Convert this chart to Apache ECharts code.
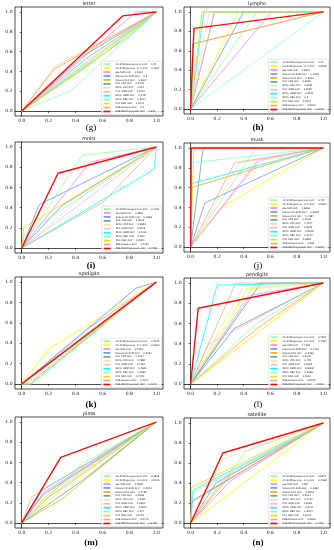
<!DOCTYPE html>
<html><head><meta charset="utf-8">
<script src="https://cdn.jsdelivr.net/npm/echarts@6/dist/echarts.min.js"></script>
<style>html,body{margin:0;padding:0;background:#fff}#c{width:334px;height:550px}</style>
</head><body><div id="c"></div>
<script>
// ---------- DATA ----------
const methods = ['OC-SVM(Autogamma)', 'OC-SVM(gamma=0.1)', 'eta-SVM', 'Robust OC-SVM', 'Robust PCA',
  'PCA_CDF', 'KPCA_CDF', 'PCA_GMM', 'KPCA_GMM', 'KPCA_DBC', 'PCA_DBC', 'DAE-Kmeans', 'DAE-DBC(Proposed)'];
const datasets = ['letter', 'lympho', 'mnist', 'musk', 'optdigits', 'pendigits', 'pima', 'satellite'];
const captions = ['(g)', '(h)', '(i)', '(j)', '(k)', '(l)', '(m)', '(n)'];
const tickValues = [0.0, 0.2, 0.4, 0.6, 0.8, 1.0];

// middle ROC point (FPR, TPR) per method; null = method not shown
const letterFpr = [0.37, 0.5, 0.85, 0.48, 0.24, 0.45, 0.55, 0.25, 0.78, 0.5, 0.5, 0.5, 0.75];
const letterTpr = [0.21, 0.485, 1.0, 0.53, 0.42, 0.55, 0.6, 0.45, 0.74, 0.52, 0.46, 0.5, 0.96];
const letterAuc = ['0.42', '0.4927', '0.5397', '0.5', '0.5607', '0.5403', '0.512', '0.5407', '0.4787', '0.5207', '0.5023', '0.5', '0.603'];

const lymphoFpr = [0.5, 0.36, 0.61, 0.4, 0.015, 0.18, 0.14, 0.18, 0.1, 0.5, 0.085, 0.015, 0.025];
const lymphoTpr = [1.0, 1.0, 1.0, 1.0, 0.67, 1.0, 1.0, 1.0, 1.0, 0.5, 1.0, 0.67, 0.83];
const lymphoAuc = ['0.75', '0.8208', '0.6937', '0.7993', '0.8226', '0.9087', '0.9261', '0.9087', '0.9521', '0.5', '0.9542', '0.8203', '0.9026'];

const mnistFpr = [0.45, null, 0.51, 0.13, null, 0.3, 0.5, 0.5, 0.985, 0.02, 0.015, 0.6, 0.27];
const mnistTpr = [0.92, null, 0.85, 0.43, null, 0.42, 0.56, 0.5, 0.78, 0.13, 0.2, 0.45, 0.74];
const mnistAuc = ['0.7261', null, '0.6891', '0.6369', null, '0.5619', '0.5659', '0.5026', '0.4019', '0.563', '0.5484', '0.4251', '0.7358'];

const muskFpr = [0.49, 0.23, 0.51, 0.107, 0.005, 0.094, 0.37, 0.52, 0.005, 0.005, 0.025, 0.33, 0.004];
const muskTpr = [1.0, 0.4, 0.88, 0.445, 0.6, 1.0, 0.85, 0.87, 0.64, 0.85, 1.0, 0.85, 1.0];
const muskAuc = ['0.754', '0.5903', '0.6863', '0.6648', '0.7987', '0.9526', '0.7577', '0.6928', '0.8206', '0.9272', '0.9865', '0.808', '0.9978'];

const optdigitsFpr = [0.3, 0.2, 0.5, 0.85, null, 0.5, 0.5, 0.05, 0.07, 0.07, 0.055, 0.5, 0.5];
const optdigitsTpr = [0.32, 0.34, 0.55, 0.94, null, 0.49, 0.48, 0.0, 0.0, 0.0, 0.0, 0.5, 0.5];
const optdigitsAuc = ['0.5025', '0.5623', '0.5259', '0.5461', null, '0.4917', '0.4882', '0.4762', '0.4665', '0.4665', '0.4735', '0.4977', '0.4972'];

const pendigitsFpr = [0.49, 0.43, 0.45, 0.53, 0.5, 0.33, 0.39, 0.13, 0.2, 0.5, 0.6, 0.34, 0.057];
const pendigitsTpr = [1.0, 0.94, 0.88, 1.0, 0.55, 0.55, 0.95, 0.39, 0.98, 0.6, 0.6, 1.0, 0.75];
const pendigitsAuc = ['0.7557', '0.7562', '0.7318', '0.7293', '0.5266', '0.6125', '0.778', '0.6328', '0.8908', '0.5466', '0.5064', '0.8225', '0.8464'];

const pimaFpr = [0.45, 0.3, 0.16, 0.16, 0.3, 0.45, 0.2, 0.2, 0.156, 0.2, 0.2, 0.075, 0.29];
const pimaTpr = [0.59, 0.33, 0.3, 0.28, 0.24, 0.42, 0.25, 0.26, 0.33, 0.255, 0.29, 0.26, 0.65];
const pimaAuc = ['0.5698', '0.5125', '0.5626', '0.5543', '0.4783', '0.4808', '0.5262', '0.5316', '0.5642', '0.527', '0.5476', '0.5773', '0.6758'];

const satelliteFpr = [0.42, 0.5, 0.3, 0.19, 0.3, 0.01, 0.24, 0.25, 0.02, 0.015, 0.01, 0.01, 0.243];
const satelliteTpr = [0.72, 0.5, 0.42, 0.4, 0.48, 0.22, 0.64, 0.45, 0.33, 0.3, 0.36, 0.21, 0.70];
const satelliteAuc = ['0.6524', '0.4998', '0.567', '0.5962', '0.5879', '0.6014', '0.7133', '0.6065', '0.6714', '0.6572', '0.6722', '0.6006', '0.7284'];

const allFpr = [letterFpr, lymphoFpr, mnistFpr, muskFpr, optdigitsFpr, pendigitsFpr, pimaFpr, satelliteFpr];
const allTpr = [letterTpr, lymphoTpr, mnistTpr, muskTpr, optdigitsTpr, pendigitsTpr, pimaTpr, satelliteTpr];
const allAuc = [letterAuc, lymphoAuc, mnistAuc, muskAuc, optdigitsAuc, pendigitsAuc, pimaAuc, satelliteAuc];

// ---------- STYLE / LAYOUT ----------
const colors = ['#98fb98', '#ffff00', '#ee82ee', '#6495ed', '#ffa500', '#5f9ea0', '#ffdab9',
  '#ffb6c1', '#00ffff', '#7fffd4', '#ffd700', '#d2b48c', '#ff0000'];
const boxes = [
  [15, 7, 148, 109], [184, 7, 146, 107],
  [15, 142, 148, 111], [184, 143, 146, 109],
  [15, 277, 148, 112], [184, 278, 146, 111],
  [15, 417, 148, 111], [184, 418, 146, 110]
];
const captionY = [128, 128, 266, 266, 405, 405, 543, 543];
const captionBold = [false, true, true, false, true, false, true, true];
const W = 334, H = 550;

const grids = [], xAxes = [], yAxes = [], series = [], legends = [], graphics = [];
const axisCommon = {
  type: 'value', min: -0.05, max: 1.05,
  splitLine: { show: false },
  axisLine: { show: true, lineStyle: { color: '#000', width: 0.7 } },
  axisTick: { show: true, length: 2, customValues: tickValues, lineStyle: { color: '#000', width: 0.6 } },
  axisLabel: { customValues: tickValues, fontSize: 4.5, color: '#222', margin: 2.5,
    fontFamily: 'DejaVu Sans', formatter: v => v.toFixed(1) }
};

boxes.forEach((b, i) => {
  const [l, t, w, h] = b;
  grids.push({ left: l, top: t, width: w, height: h, show: true, borderColor: '#000', borderWidth: 0.7, backgroundColor: '#fff' });
  xAxes.push(Object.assign({}, axisCommon, { gridIndex: i }));
  yAxes.push(Object.assign({}, axisCommon, { gridIndex: i }));
  const names = [];
  methods.forEach((m, k) => {
    const fpr = allFpr[i][k];
    if (fpr === null) return;
    const name = m + ' AUC = ' + allAuc[i][k];
    names.push(name);
    const isRed = k === methods.length - 1;
    series.push({
      type: 'line', name, xAxisIndex: i, yAxisIndex: i,
      data: [[0, 0], [fpr, allTpr[i][k]], [1, 1]],
      symbol: 'none', silent: true, z: isRed ? 5 : 2,
      color: colors[k],
      lineStyle: { color: colors[k], width: isRed ? 1.4 : 0.9, opacity: isRed ? 0.95 : 0.85 }
    });
  });
  const rowH = 3.95;
  legends.push({
    data: names, orient: 'vertical', selectedMode: false,
    right: W - (l + w) + 1.5, bottom: H - (t + h) + 1.5,
    icon: 'rect', itemWidth: 7, itemHeight: 1.6, itemGap: rowH - 3,
    padding: [1.5, 2, 1.5, 2],
    backgroundColor: 'rgba(255,255,255,0.85)', borderColor: '#ccc', borderWidth: 0.5, borderRadius: 1,
    textStyle: { fontSize: 2.4, lineHeight: 3, color: '#222', fontFamily: 'DejaVu Sans' }
  });
  graphics.push({
    type: 'text', x: l + w / 2, y: t - 3.2,
    style: { text: datasets[i], fontSize: 4.8, fill: '#111', fontFamily: 'DejaVu Sans', textAlign: 'center', textVerticalAlign: 'middle' }
  });
  graphics.push({
    type: 'text', x: l + w / 2 + (i % 2 ? 1 : 2), y: captionY[i],
    style: { text: captions[i], fontSize: 9, fill: '#000', fontFamily: 'Liberation Serif',
      fontWeight: captionBold[i] ? 'bold' : 'normal', textAlign: 'center', textVerticalAlign: 'middle' }
  });
});

const chart = echarts.init(document.getElementById('c'), null, { renderer: 'canvas' });
chart.setOption({
  animation: false, backgroundColor: '#fff',
  grid: grids, xAxis: xAxes, yAxis: yAxes, series, legend: legends, graphic: graphics
});
</script></body></html>
